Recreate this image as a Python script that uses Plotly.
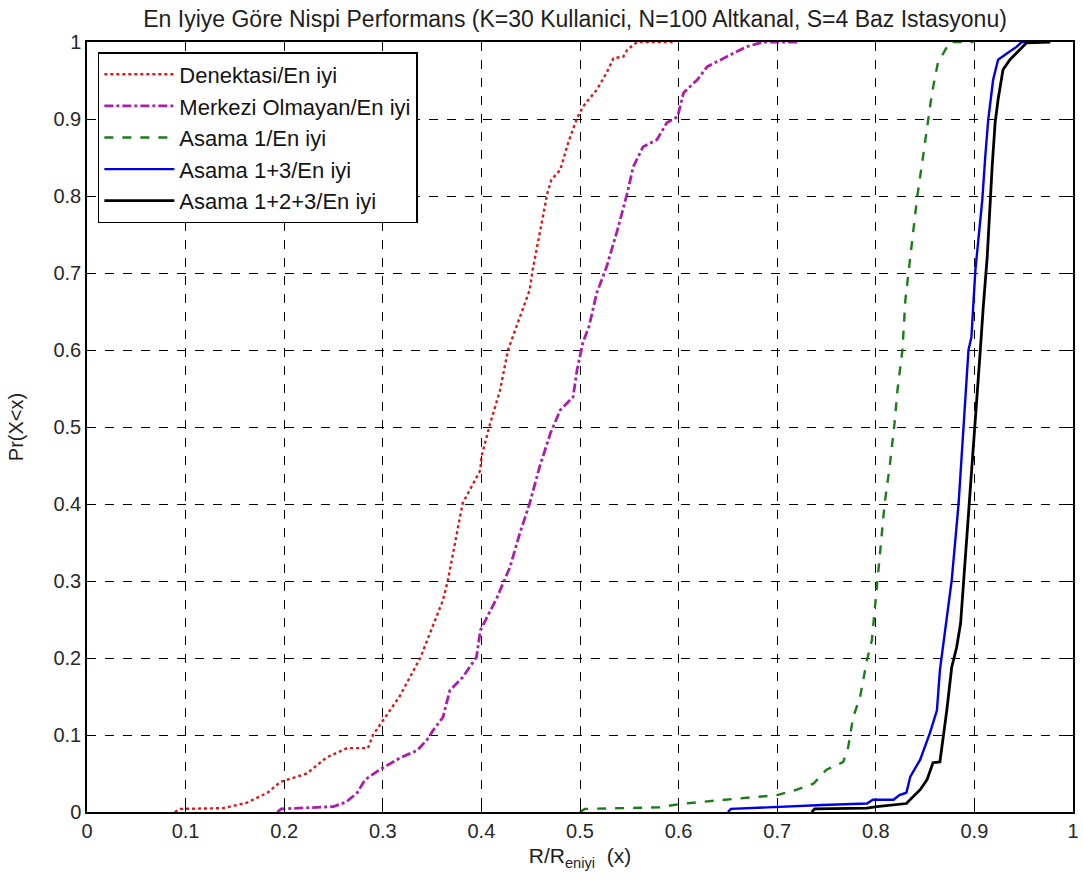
import plotly.graph_objects as go

# Denektasi/En iyi
den_x = [0.089, 0.095, 0.138, 0.162, 0.183, 0.196, 0.223, 0.243, 0.264, 0.285, 0.290, 0.317, 0.338, 0.361,
         0.366, 0.381, 0.399, 0.400, 0.409, 0.419, 0.427, 0.439, 0.449, 0.452, 0.467, 0.471, 0.480, 0.488,
         0.497, 0.503, 0.517, 0.527, 0.534, 0.544, 0.548, 0.558, 0.594]
den_y = [0.000, 0.004, 0.005, 0.012, 0.025, 0.039, 0.050, 0.071, 0.083, 0.083, 0.100, 0.150, 0.200, 0.275,
         0.301, 0.401, 0.444, 0.461, 0.505, 0.548, 0.600, 0.643, 0.678, 0.704, 0.804, 0.821, 0.834, 0.869,
         0.901, 0.916, 0.938, 0.960, 0.979, 0.981, 0.990, 1.000, 1.000]

# Merkezi Olmayan/En iyi
mer_x = [0.193, 0.197, 0.250, 0.263, 0.274, 0.282, 0.297, 0.317, 0.335, 0.345, 0.351, 0.361, 0.368, 0.381,
         0.395, 0.399, 0.416, 0.429, 0.439, 0.449, 0.459, 0.470, 0.480, 0.493, 0.497, 0.503, 0.509, 0.517,
         0.527, 0.538, 0.548, 0.554, 0.564, 0.578, 0.588, 0.599, 0.605, 0.619, 0.629, 0.649, 0.669, 0.686, 0.723]
mer_y = [0.000, 0.004, 0.007, 0.013, 0.025, 0.042, 0.055, 0.070, 0.080, 0.094, 0.106, 0.123, 0.158, 0.175,
         0.201, 0.236, 0.279, 0.318, 0.362, 0.401, 0.448, 0.492, 0.522, 0.539, 0.574, 0.610, 0.630, 0.674,
         0.708, 0.756, 0.804, 0.838, 0.864, 0.873, 0.895, 0.903, 0.934, 0.951, 0.968, 0.981, 0.994, 1.000, 1.000]

# Asama 1/En iyi
as1_x = [0.500, 0.505, 0.580, 0.600, 0.622, 0.690, 0.700, 0.720, 0.737, 0.750, 0.767, 0.772, 0.777, 0.784,
         0.791, 0.796, 0.802, 0.809, 0.814, 0.819, 0.822, 0.827, 0.830, 0.833, 0.837, 0.842, 0.847, 0.853,
         0.857, 0.863, 0.872, 0.875, 0.899]
as1_y = [0.000, 0.004, 0.006, 0.010, 0.013, 0.020, 0.022, 0.029, 0.037, 0.055, 0.065, 0.084, 0.123, 0.149,
         0.197, 0.223, 0.301, 0.401, 0.448, 0.505, 0.548, 0.600, 0.665, 0.700, 0.743, 0.799, 0.843, 0.899,
         0.934, 0.973, 0.994, 1.000, 1.000]

# Asama 1+3/En iyi
as13_x = [0.650, 0.653, 0.746, 0.791, 0.797, 0.818, 0.824, 0.831, 0.835, 0.845, 0.855, 0.862, 0.865, 0.868,
          0.873, 0.877, 0.884, 0.888, 0.894, 0.897, 0.901, 0.904, 0.908, 0.911, 0.914, 0.919, 0.924, 0.934,
          0.943, 0.948, 0.952]
as13_y = [0.000, 0.004, 0.009, 0.011, 0.016, 0.016, 0.022, 0.025, 0.046, 0.068, 0.103, 0.132, 0.184, 0.214,
          0.258, 0.301, 0.401, 0.487, 0.600, 0.617, 0.704, 0.743, 0.795, 0.851, 0.899, 0.951, 0.977, 0.986,
          0.994, 1.000, 1.000]

# Asama 1+2+3/En iyi
as123_x = [0.735, 0.738, 0.791, 0.801, 0.831, 0.838, 0.845, 0.852, 0.858, 0.865, 0.868, 0.872, 0.877, 0.882,
           0.886, 0.889, 0.895, 0.899, 0.903, 0.906, 0.909, 0.913, 0.918, 0.921, 0.924, 0.929, 0.936, 0.946,
           0.953, 0.977]
as123_y = [0.000, 0.004, 0.005, 0.007, 0.011, 0.020, 0.029, 0.042, 0.064, 0.065, 0.094, 0.132, 0.188, 0.214,
           0.245, 0.297, 0.401, 0.470, 0.535, 0.600, 0.656, 0.721, 0.838, 0.895, 0.925, 0.964, 0.977, 0.990,
           0.999, 1.000]

tick_vals = [0, 0.1, 0.2, 0.3, 0.4, 0.5, 0.6, 0.7, 0.8, 0.9, 1]
tick_text = ["0", "0.1", "0.2", "0.3", "0.4", "0.5", "0.6", "0.7", "0.8", "0.9", "1"]

series = [
    ("Denektasi/En iyi", den_x, den_y, "rgb(215,25,25)", "dot", 2.4),
    ("Merkezi Olmayan/En iyi", mer_x, mer_y, "rgb(170,30,170)", "dashdot", 2.8),
    ("Asama 1/En iyi", as1_x, as1_y, "rgb(25,125,25)", "dash", 2.4),
    ("Asama 1+3/En iyi", as13_x, as13_y, "rgb(0,0,230)", "solid", 2.4),
    ("Asama 1+2+3/En iyi", as123_x, as123_y, "rgb(0,0,0)", "solid", 2.8),
]

fig = go.Figure()
for name, xs, ys, col, dash, w in series:
    fig.add_trace(go.Scatter(x=xs, y=ys, mode="lines", name=name, legendgroup=name,
                             line=dict(color=col, dash=dash, width=w)))

font_family = "Liberation Sans, Arial, sans-serif"
axis_common = dict(
    range=[0, 1], tickvals=tick_vals, ticktext=tick_text, automargin=False,
    showline=True, linecolor="black", linewidth=1.5, mirror="ticks",
    ticks="inside", ticklen=7, tickcolor="black", tickwidth=1,
    showgrid=True, gridcolor="black", gridwidth=1, griddash="dash",
    zeroline=False, tickfont=dict(size=20, color="rgb(40,40,40)", family=font_family),
)

fig.update_layout(
    width=1083, height=884,
    margin=dict(l=87, r=10, t=42, b=72),
    paper_bgcolor="white", plot_bgcolor="white",
    title=dict(text="En Iyiye Göre Nispi Performans (K=30 Kullanici, N=100 Altkanal, S=4 Baz Istasyonu)",
               xref="paper", x=0.495, xanchor="center", y=0.979, yanchor="middle",
               font=dict(size=23, color="rgb(30,30,30)", family=font_family)),
    xaxis=dict(**axis_common, title=dict(text="R/R<sub>eniyi</sub>  (x)", standoff=8,
                                         font=dict(size=21, color="rgb(30,30,30)", family=font_family))),
    yaxis=dict(**axis_common, title=dict(text="Pr(X<x)", standoff=24,
                                         font=dict(size=20, color="rgb(30,30,30)", family=font_family))),
    legend=dict(x=0.011, y=0.987, xanchor="left", yanchor="top",
                bgcolor="white", bordercolor="black", borderwidth=1.5,
                font=dict(size=22, color="rgb(20,20,20)", family=font_family),
                itemwidth=70, tracegroupgap=3, traceorder="normal"),
)

fig.write_html("out.html")
